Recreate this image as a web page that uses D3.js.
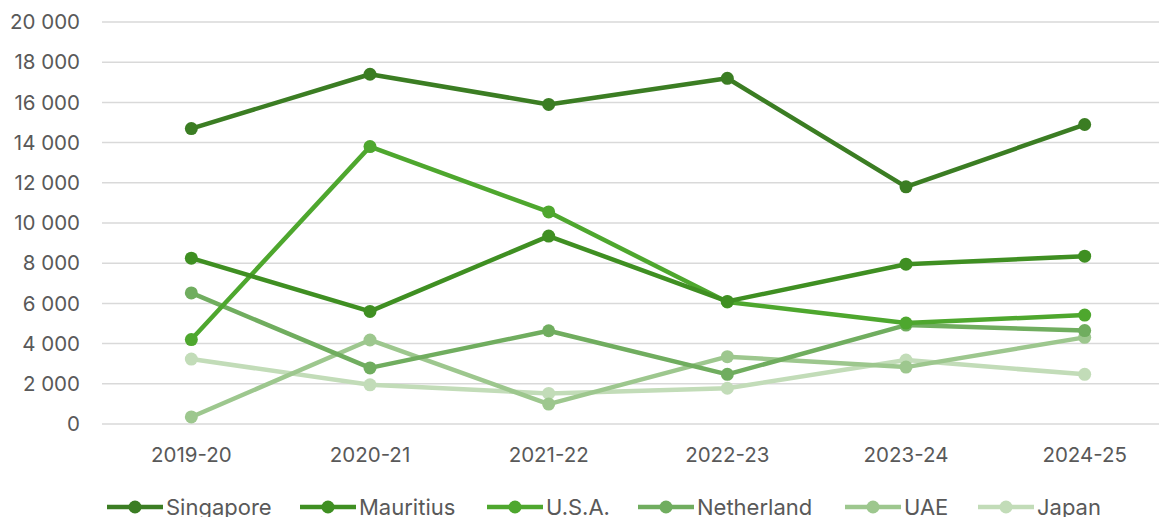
<!DOCTYPE html>
<html lang="en">
<head>
    <meta charset="UTF-8">
    <title>Line chart</title>
    <script src="https://d3js.org/d3.v7.min.js"></script>
    <style>
        body {
            margin: 0;
            padding: 0;
            background: #fff;
            font-family: Inter, "Open Sans", Arial, sans-serif;
        }
        svg { display: block; }
        .grid line { stroke: #d9d9d9; stroke-width: 1.5px; }
        .tick-label { fill: #595959; font-size: 20.5px; }
        .legend text { fill: #595959; font-size: 22px; }
    </style>
</head>
<body>
    <svg id="chart" width="1159" height="517"></svg>

    <script>
        const years = ["2019-20", "2020-21", "2021-22", "2022-23", "2023-24", "2024-25"];
        const countries = ["Singapore", "Mauritius", "U.S.A.", "Netherland", "UAE", "Japan"];
        const colors = ["#3b7d23", "#3f8f22", "#4ea72e", "#70ad5f", "#9dc78e", "#c2dcb8"];

        const singapore = [14700, 17400, 15900, 17200, 11800, 14900];
        const mauritius = [8250, 5600, 9350, 6100, 7950, 8350];
        const usa = [4200, 13800, 10550, 6070, 5020, 5420];
        const netherland = [6520, 2790, 4640, 2470, 4920, 4650];
        const uae = [350, 4180, 990, 3350, 2830, 4310];
        const japan = [3230, 1950, 1520, 1780, 3180, 2470];

        const yTicks = [0, 2000, 4000, 6000, 8000, 10000, 12000, 14000, 16000, 18000, 20000];

        const seriesValues = [singapore, mauritius, usa, netherland, uae, japan];
        const series = countries.map((name, i) => ({ name, color: colors[i], values: seriesValues[i] }));

        const svg = d3.select("#chart");

        const x = d3.scaleBand().domain(years).range([102, 1174]);
        const cx = d => x(d) + x.bandwidth() / 2;
        const y = d3.scaleLinear().domain([0, 20000]).range([424, 22]);

        const fmt = v => d3.format(",")(v).replace(/,/g, " ");

        // gridlines
        svg.append("g").attr("class", "grid")
            .selectAll("line")
            .data(yTicks)
            .join("line")
            .attr("x1", 102)
            .attr("x2", 1174)
            .attr("y1", d => y(d))
            .attr("y2", d => y(d));

        // y labels
        svg.append("g")
            .selectAll("text")
            .data(yTicks)
            .join("text")
            .attr("class", "tick-label")
            .attr("x", 80)
            .attr("y", d => y(d))
            .attr("dy", "0.35em")
            .attr("text-anchor", "end")
            .text(fmt);

        // x labels
        svg.append("g")
            .selectAll("text")
            .data(years)
            .join("text")
            .attr("class", "tick-label")
            .attr("x", cx)
            .attr("y", 455)
            .attr("dy", "0.35em")
            .attr("text-anchor", "middle")
            .text(d => d);

        const line = d3.line()
            .x((d, i) => cx(years[i]))
            .y(d => y(d));

        // draw from the lightest series so the dark ones sit on top
        const g = svg.append("g")
            .selectAll("g")
            .data(series.slice().reverse())
            .join("g");

        g.append("path")
            .attr("fill", "none")
            .attr("stroke", d => d.color)
            .attr("stroke-width", 4.5)
            .attr("stroke-linejoin", "round")
            .attr("d", d => line(d.values));

        g.selectAll("circle")
            .data(d => d.values.map((v, i) => ({ v, i, color: d.color })))
            .join("circle")
            .attr("cx", d => cx(years[d.i]))
            .attr("cy", d => y(d.v))
            .attr("r", 6.5)
            .attr("fill", d => d.color);

        // legend
        const legendX = [107, 300, 487, 638, 845, 978];
        const legend = svg.append("g").attr("class", "legend")
            .selectAll("g")
            .data(series)
            .join("g")
            .attr("transform", (d, i) => `translate(${legendX[i]},507)`);

        legend.append("line")
            .attr("x1", 0).attr("x2", 56)
            .attr("stroke", d => d.color)
            .attr("stroke-width", 4.5);
        legend.append("circle")
            .attr("cx", 28)
            .attr("r", 6.5)
            .attr("fill", d => d.color);
        legend.append("text")
            .attr("x", 59)
            .attr("dy", "0.35em")
            .text(d => d.name);
    </script>
</body>
</html>
